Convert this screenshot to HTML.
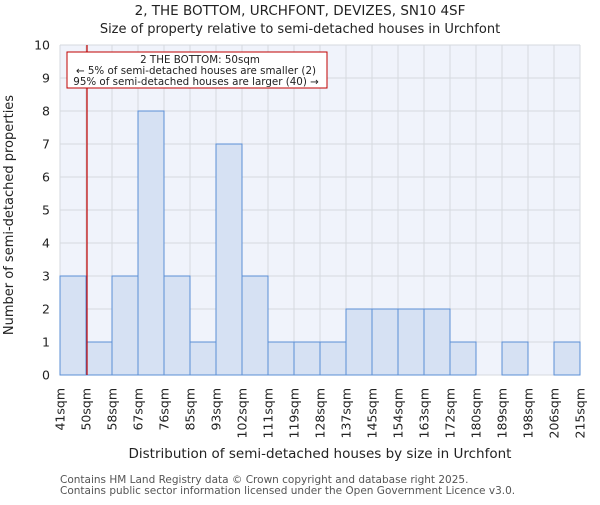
<!DOCTYPE html>
<html><head><meta charset="utf-8"><style>
body{margin:0;background:#fff;}
svg text{font-family:"DejaVu Sans","Liberation Sans",sans-serif;fill:#222;}
</style></head><body>
<svg id="chart" width="600" height="500" xmlns="http://www.w3.org/2000/svg">
<text x="300" y="15" text-anchor="middle" font-size="13.5">2, THE BOTTOM, URCHFONT, DEVIZES, SN10 4SF</text>
<text x="300" y="33" text-anchor="middle" font-size="13">Size of property relative to semi-detached houses in Urchfont</text>
<rect x="60" y="45" width="520" height="330" fill="#f0f3fb"/>
<g id="grid"></g><g id="bars"></g><g id="yticks"></g><g id="xticks"></g>
<text transform="translate(13,215) rotate(-90)" text-anchor="middle" font-size="13">Number of semi-detached properties</text>
<text x="320" y="458" text-anchor="middle" font-size="13.5">Distribution of semi-detached houses by size in Urchfont</text>
<text x="60" y="483" font-size="10.5" style="fill:#555">Contains HM Land Registry data © Crown copyright and database right 2025.</text>
<text x="60" y="494" font-size="10.5" style="fill:#555">Contains public sector information licensed under the Open Government Licence v3.0.</text>
<line x1="87" y1="45" x2="87" y2="375" stroke="#c00000" stroke-width="1.2"/>
<rect x="67" y="52" width="260" height="36" fill="#fff" stroke="#c00000" stroke-width="1"/>
<text x="200" y="63" text-anchor="middle" font-size="10.3">2 THE BOTTOM: 50sqm</text>
<text x="196" y="74" text-anchor="middle" font-size="10.3">← 5% of semi-detached houses are smaller (2)</text>
<text x="196" y="85" text-anchor="middle" font-size="10.3">95% of semi-detached houses are larger (40) →</text>
</svg>
<script>
const binLabels=["41sqm","50sqm","58sqm","67sqm","76sqm","85sqm","93sqm","102sqm","111sqm","119sqm","128sqm","137sqm","145sqm","154sqm","163sqm","172sqm","180sqm","189sqm","198sqm","206sqm","215sqm"];
const counts=[3,1,3,8,3,1,7,3,1,1,1,2,2,2,2,1,0,1,0,1];
const yTicks=[0,1,2,3,4,5,6,7,8,9,10];
const NS="http://www.w3.org/2000/svg";
const x0=60,x1=580,y0=375,y1=45,yMax=10;
const bw=(x1-x0)/counts.length;
function xs(i){return x0+i*bw;}
function ys(v){return y0-(v/yMax)*(y0-y1);}
function mk(t,a,p){const e=document.createElementNS(NS,t);for(const k in a)e.setAttribute(k,a[k]);p.appendChild(e);return e;}
const grid=document.getElementById('grid'),bars=document.getElementById('bars'),yt=document.getElementById('yticks'),xt=document.getElementById('xticks');
yTicks.forEach(v=>{
 const l=mk('line',{x1:x0,x2:x1,y1:ys(v),y2:ys(v),stroke:'#d6d9df','stroke-width':1},grid);
 
 
 const t=mk('text',{x:x0-10,y:ys(v)+4.5,'text-anchor':'end','font-size':12.5},yt);
 t.textContent=v;
 
 
});
binLabels.forEach((s,i)=>{
 const l=mk('line',{x1:xs(i),x2:xs(i),y1:y1,y2:y0,stroke:'#d6d9df','stroke-width':1},grid);
 
 
 const t=mk('text',{transform:`translate(${xs(i)+4.5},${y0+13}) rotate(-90)`,'text-anchor':'end','font-size':12.5},xt);
 t.textContent=s;
 
 
});
counts.forEach((c,i)=>{
 if(c<=0)return;
 const r=mk('rect',{x:xs(i),y:ys(c),width:bw,height:y0-ys(c),fill:'#d6e1f3',stroke:'#5b8fd6','stroke-width':1},bars);
 
 
});
</script>
</body></html>
